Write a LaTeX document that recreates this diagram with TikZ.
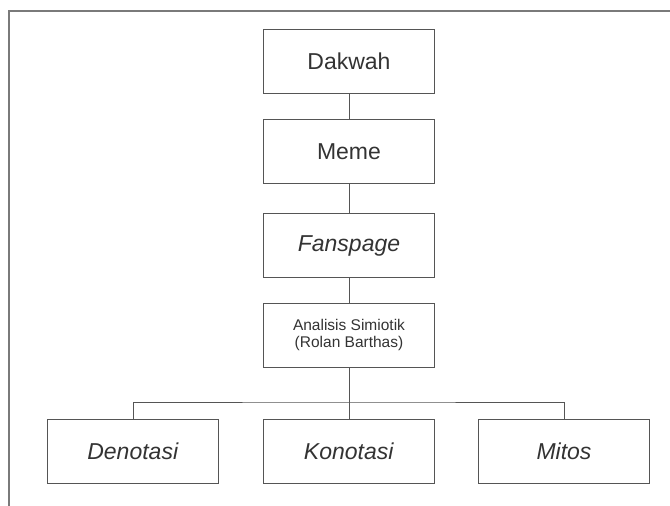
\documentclass[tikz,border=0pt]{standalone}
\usepackage{fontspec}
\setmainfont{Liberation Sans}
\usepackage{tikz}
\usetikzlibrary{positioning}

\definecolor{boxline}{HTML}{555555}
\definecolor{frameline}{HTML}{7A7A7A}
\definecolor{labeltext}{HTML}{333333}

\begin{document}
\begin{tikzpicture}[
squarednode/.style={rectangle, draw=boxline, line width=1pt, minimum width=171pt, minimum height=64pt, inner sep=0pt, text=labeltext, font=\fontsize{23pt}{25pt}\selectfont},
smallnode/.style={squarednode, font=\fontsize{15.5pt}{16.5pt}\selectfont},
]
\useasboundingbox (0,0) rectangle (670pt,-506pt);

%Frame
\draw[frameline, line width=1.5pt] (9pt,-506pt) -- (9pt,-11pt) -- (670pt,-11pt);

%Nodes
\node[squarednode]      (dakwah)   at (349pt,-61.5pt)           {Dakwah};
\node[squarednode]      (meme)     [below=25pt of dakwah]       {Meme};
\node[squarednode]      (fanspage) [below=29pt of meme]         {\textit{Fanspage}};
\node[smallnode]        (analisis) [below=25pt of fanspage]     {\begin{tabular}{@{}c@{}} Analisis Simiotik \\ (Rolan Barthas)\end{tabular}};

\node[squarednode]      (konotasi) [below=51pt of analisis]     {\textit{Konotasi}};
\node[squarednode]      (denotasi) [left=44pt of konotasi]      {\textit{Denotasi}};
\node[squarednode]      (mitos)    [right=43pt of konotasi]     {\textit{Mitos}};

\coordinate (bus) at ([yshift=-34pt]analisis.south);

%Lines
\draw[boxline, line width=1pt] (dakwah.south) -- (meme.north);
\draw[boxline, line width=1pt] (meme.south) -- (fanspage.north);
\draw[boxline, line width=1pt] (fanspage.south) -- (analisis.north);
\draw[boxline, line width=1pt] (analisis.south) -- (konotasi.north);
\draw[boxline, line width=1pt] (denotasi.north) |- (bus) -| (mitos.north);

\end{tikzpicture}
\end{document}
